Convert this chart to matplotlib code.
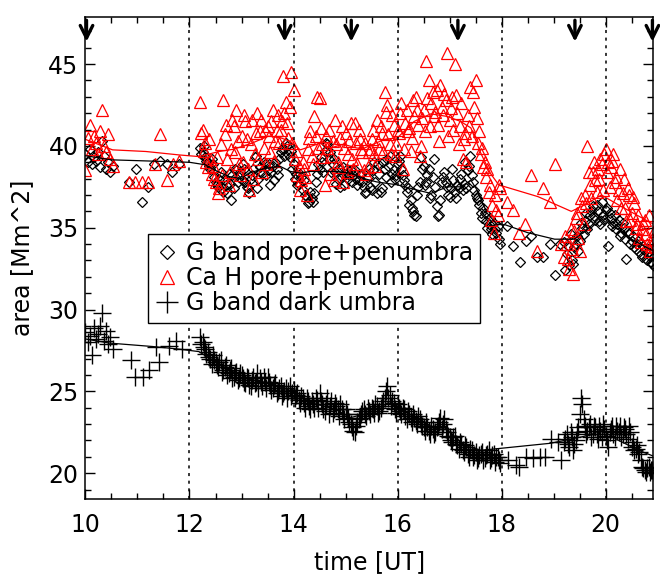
import numpy as np
import matplotlib
matplotlib.use("Agg")
import matplotlib.pyplot as plt
from matplotlib.ticker import MultipleLocator

plt.rcParams["font.family"] = ["DejaVu Sans"]

# ---- observation times (UT hours) ----
t_a = [10.00, 10.04, 10.08, 10.12, 10.16, 10.20, 10.24, 10.28, 10.32, 10.36, 10.40, 10.44, 10.48, 10.52]
t_b = [12.20, 12.25, 12.30, 12.35, 12.40, 12.45, 12.50, 12.55, 12.60, 12.65, 12.70, 12.75, 12.80, 12.85, 12.90, 12.95,
       13.00, 13.05, 13.10, 13.15, 13.20, 13.25, 13.30, 13.35, 13.40, 13.45, 13.50, 13.55, 13.60, 13.65, 13.70, 13.75,
       13.80, 13.85, 13.90, 13.95, 14.00, 14.05, 14.10, 14.15, 14.20, 14.25, 14.30, 14.35, 14.40, 14.45, 14.50, 14.55,
       14.60, 14.65, 14.70, 14.75, 14.80, 14.85, 14.90, 14.95, 15.00, 15.05, 15.10, 15.15, 15.20, 15.25, 15.30, 15.35,
       15.40, 15.45, 15.50, 15.55, 15.60, 15.65, 15.70, 15.75, 15.80, 15.85, 15.90, 15.95, 16.00, 16.05, 16.10, 16.15,
       16.20, 16.25, 16.30, 16.35, 16.40, 16.45, 16.50, 16.55, 16.60, 16.65, 16.70, 16.75, 16.80, 16.85, 16.90, 16.95,
       17.00, 17.05, 17.10, 17.15, 17.20, 17.25, 17.30, 17.35, 17.40, 17.45, 17.50, 17.55, 17.60, 17.65, 17.70, 17.75,
       17.80, 17.85, 17.90, 17.95]
t_b2 = [12.225, 12.275, 12.325, 12.375, 12.425, 12.475, 12.525, 12.575, 12.625, 12.675, 12.725, 12.775, 12.825, 12.875,
        12.925, 12.975, 13.025, 13.075, 13.125, 13.175, 13.225, 13.275, 13.325, 13.375, 13.425, 13.475, 13.525, 13.575,
        13.625, 13.675, 13.725, 13.775, 13.825, 13.875, 13.925, 13.975, 14.025, 14.075, 14.125, 14.175, 14.225, 14.275,
        14.325, 14.375, 14.425, 14.475, 14.525, 14.575, 14.625, 14.675, 14.725, 14.775, 14.825, 14.875, 14.925, 14.975,
        15.025, 15.075, 15.125, 15.175, 15.225, 15.275, 15.325, 15.375, 15.425, 15.475, 15.525, 15.575, 15.625, 15.675,
        15.725, 15.775, 15.825, 15.875, 15.925, 15.975, 16.025, 16.075, 16.125, 16.175, 16.225, 16.275, 16.325, 16.375,
        16.425, 16.475, 16.525, 16.575, 16.625, 16.675, 16.725, 16.775, 16.825, 16.875, 16.925, 16.975, 17.025, 17.075,
        17.125, 17.175, 17.225, 17.275, 17.325, 17.375, 17.425, 17.475, 17.525, 17.575, 17.625, 17.675, 17.725, 17.775,
        17.825, 17.875, 17.925, 17.975]
t_c = [19.20, 19.25, 19.30, 19.35, 19.40, 19.45, 19.50, 19.55, 19.60, 19.65, 19.70, 19.75, 19.80, 19.85, 19.90, 19.95,
       20.00, 20.05, 20.10, 20.15, 20.20, 20.25, 20.30, 20.35, 20.40, 20.45, 20.50, 20.55, 20.60, 20.65, 20.70, 20.75,
       20.80, 20.85, 20.90, 20.95]
t_c2 = [19.225, 19.275, 19.325, 19.375, 19.425, 19.475, 19.525, 19.575, 19.625, 19.675, 19.725, 19.775, 19.825,
        19.875, 19.925, 19.975, 20.025, 20.075, 20.125, 20.175, 20.225, 20.275, 20.325, 20.375, 20.425, 20.475,
        20.525, 20.575, 20.625, 20.675, 20.725, 20.775, 20.825, 20.875, 20.925]

# ---- G band pore+penumbra ----
gpen_a = [39.5, 39.0, 39.8, 38.9, 39.3, 39.1, 39.6, 38.7, 40.3, 39.4, 38.6, 39.0, 38.4, 38.8]
gpen_b = [39.9, 39.6, 39.3, 39.0, 38.6, 38.9, 37.8, 37.5, 38.4, 37.2, 37.6, 38.3, 36.7, 37.4, 38.5, 38.1,
          37.9, 38.6, 37.5, 37.1, 38.2, 39.3, 37.4, 38.7, 38.3, 38.9, 38.5, 37.6, 38.8, 39.0, 38.2, 39.6,
          39.9, 40.2, 39.5, 39.7, 38.9, 38.3, 37.7, 38.1, 37.9, 36.9, 36.6, 36.8, 37.1, 38.3, 38.6, 39.0,
          39.7, 40.1, 39.6, 38.9, 38.4, 38.0, 37.5, 38.7, 38.3, 38.0, 38.5, 38.2, 38.0, 37.9, 38.3, 37.5,
          37.2, 38.6, 37.3, 39.0, 37.1, 38.3, 37.4, 38.6, 39.2, 39.4, 38.3, 38.0, 38.9, 39.4, 38.2, 37.6,
          37.4, 36.7, 36.0, 35.7, 37.5, 39.3, 38.8, 37.8, 38.6, 37.0, 39.2, 36.3, 35.8, 37.8, 38.4, 37.5,
          36.9, 38.6, 37.2, 37.6, 38.0, 37.3, 39.0, 38.5, 39.4, 37.8, 37.0, 36.7, 35.9, 36.2, 35.4, 35.2,
          34.9, 35.3, 34.7, 34.3]
gpen_b2 = [39.5, 40.0, 39.1, 38.8, 39.2, 38.1, 37.6, 38.0, 37.4, 37.9, 37.1, 37.7, 38.2, 38.6, 37.8, 38.4,
           38.9, 37.8, 37.4, 38.0, 38.6, 39.4, 38.0, 38.4, 39.0, 38.2, 38.9, 38.4, 37.9, 38.6, 39.2, 39.8,
           39.4, 40.0, 39.3, 38.6, 38.0, 37.6, 38.3, 37.3, 37.0, 36.5, 37.2, 36.6, 37.8, 38.9, 39.3, 38.4,
           40.2, 39.2, 38.4, 39.2, 37.7, 38.6, 38.1, 37.6, 38.6, 38.2, 37.8, 38.5, 37.6, 38.2, 37.8, 37.1,
           38.1, 37.5, 38.5, 37.8, 38.9, 37.2, 39.0, 38.1, 38.8, 37.8, 38.5, 38.2, 39.1, 38.6, 37.9, 37.2,
           36.4, 36.2, 35.8, 37.0, 37.8, 38.6, 37.6, 38.2, 36.8, 38.1, 37.5, 35.7, 36.7, 38.1, 37.8, 37.0,
           37.4, 37.9, 36.8, 37.4, 38.3, 37.7, 37.4, 38.8, 38.2, 37.3, 36.8, 36.4, 35.6, 35.9, 35.0, 35.6,
           34.6, 34.9, 35.1, 34.0]
gpen_c = [34.1, 33.4, 32.7, 33.0, 33.8, 34.5, 34.2, 35.0, 35.4, 34.9, 35.8, 36.3, 35.5, 36.0, 35.2, 35.8,
          36.1, 33.9, 35.6, 35.3, 34.9, 35.5, 34.7, 35.0, 33.1, 34.6, 34.2, 33.8, 34.0, 33.5, 33.2, 33.6,
          33.0, 33.3, 32.8, 32.6]
gpen_c2 = [32.4, 33.9, 34.6, 32.8, 34.0, 33.6, 35.3, 34.6, 35.9, 35.2, 36.0, 35.7, 36.4, 35.4, 36.6, 35.5,
           36.2, 35.9, 35.1, 35.8, 35.2, 34.5, 35.3, 34.3, 34.8, 34.0, 34.5, 33.7, 34.2, 33.4, 33.9, 33.1,
           33.5, 32.9, 33.3]
t_gpen_gap = [10.84, 10.97, 11.08, 11.20, 11.32, 11.43, 11.56, 11.67, 11.80,
              18.11, 18.22, 18.35, 18.46, 18.57, 18.69, 18.80, 18.93, 19.03, 19.12]
gpen_gap = [37.8, 38.6, 36.6, 37.5, 38.9, 39.1, 38.9, 38.4, 38.9,
            35.1, 33.9, 32.9, 34.2, 34.5, 33.2, 33.2, 34.0, 32.1, 34.0]

# ---- Ca H pore+penumbra ----
cah_a = [38.5, 40.5, 41.3, 39.8, 40.6, 40.2, 39.5, 40.9, 42.2, 40.0, 39.6, 40.7, 39.2, 38.8]
cah_b = [42.7, 41.0, 40.2, 38.7, 39.2, 38.8, 37.8, 37.1, 40.1, 42.8, 41.3, 37.6, 39.8, 41.2, 42.2, 38.9,
         40.6, 41.9, 40.4, 37.3, 41.6, 39.5, 42.0, 40.9, 38.4, 41.0, 41.2, 39.6, 42.2, 40.3, 41.9, 41.0,
         44.3, 42.7, 40.5, 44.5, 43.4, 39.7, 38.8, 37.9, 38.6, 37.0, 40.5, 39.4, 41.8, 43.0, 42.9, 40.1,
         37.6, 39.9, 38.3, 40.3, 41.6, 39.0, 40.5, 37.8, 40.8, 39.5, 41.4, 38.6, 40.2, 41.0, 39.8, 38.5,
         38.3, 39.6, 40.4, 39.5, 41.6, 39.8, 40.8, 43.3, 42.5, 40.1, 41.9, 39.4, 41.0, 42.0, 38.6, 41.4,
         40.9, 39.7, 42.8, 43.0, 41.3, 40.0, 42.2, 45.2, 44.0, 42.6, 41.8, 43.4, 40.3, 42.4, 43.2, 45.7,
         41.6, 43.0, 45.0, 42.0, 41.2, 39.2, 40.8, 41.9, 43.6, 43.3, 44.0, 40.2, 39.5, 38.7, 38.1, 37.2,
         35.5, 34.7, 36.1, 37.6]
cah_b2 = [40.8, 39.7, 39.0, 40.4, 38.3, 38.0, 39.3, 37.4, 38.2, 40.7, 39.2, 38.4, 41.6, 39.6, 40.3, 38.2,
          39.0, 41.5, 38.6, 40.1, 38.0, 40.8, 39.2, 41.6, 39.9, 38.9, 40.6, 41.5, 39.1, 41.0, 40.2, 41.5,
          42.0, 41.4, 42.4, 40.2, 39.2, 38.2, 37.3, 39.0, 38.1, 39.8, 40.9, 38.9, 40.6, 39.9, 41.1, 39.3,
          40.6, 41.0, 39.4, 37.9, 40.1, 38.7, 41.2, 39.9, 38.4, 40.3, 39.2, 41.4, 38.9, 40.4, 39.6, 40.2,
          38.7, 39.8, 41.0, 38.8, 40.3, 41.2, 39.6, 42.1, 40.7, 39.5, 41.3, 40.1, 40.8, 42.6, 39.8, 42.2,
          41.1, 40.5, 41.8, 42.2, 39.4, 41.7, 40.9, 42.9, 41.2, 43.3, 42.1, 41.3, 43.7, 41.9, 42.8, 40.6,
          42.3, 41.0, 43.1, 40.1, 42.6, 40.4, 39.0, 41.2, 40.6, 42.4, 41.7, 40.9, 39.9, 39.0, 38.6, 37.6,
          36.4, 37.0, 35.8, 37.4]
cah_c = [33.2, 34.0, 32.5, 33.7, 34.8, 35.9, 33.6, 36.3, 37.0, 40.0, 37.6, 38.4, 37.9, 38.6, 39.2, 37.3,
         39.8, 39.0, 38.7, 39.5, 38.1, 37.3, 36.2, 38.0, 35.4, 37.0, 35.9, 36.5, 35.2, 34.4, 34.9, 35.5,
         34.0, 33.6, 34.3, 33.8]
cah_c2 = [34.5, 33.1, 34.9, 32.2, 35.6, 34.4, 36.8, 35.2, 36.5, 38.4, 36.8, 39.0, 37.2, 38.0, 38.9, 39.5,
          38.4, 37.5, 39.1, 37.8, 36.7, 38.6, 37.1, 36.2, 37.4, 35.5, 36.9, 35.0, 35.8, 34.1, 35.3, 34.6,
          35.8, 33.9, 34.8]
t_cah_gap = [10.84, 10.96, 11.08, 11.21, 11.33, 11.44, 11.56, 11.68, 11.79,
             18.11, 18.22, 18.33, 18.45, 18.57, 18.69, 18.80, 18.93, 19.03, 19.15]
cah_gap = [37.8, 37.8, 37.8, 37.8, 38.9, 40.7, 37.9, 38.9, 39.1,
           36.6, 36.1, 34.7, 35.2, 38.2, 33.6, 37.4, 36.6, 38.9, 34.0]

# ---- G band dark umbra ----
umb_a = [28.6, 28.0, 28.4, 27.2, 28.9, 28.2, 28.5, 29.0, 29.8, 28.1, 28.7, 27.9, 28.3, 27.6]
umb_b = [28.3, 28.0, 27.6, 27.4, 27.0, 27.2, 26.8, 26.5, 26.9, 26.3, 26.6, 26.1, 26.4, 25.9, 26.2, 25.8,
         26.0, 25.6, 25.9, 25.4, 25.7, 25.5, 26.1, 25.8, 25.3, 25.6, 25.9, 25.4, 25.2, 25.5, 25.0, 25.3,
         24.9, 25.2, 25.0, 24.7, 25.1, 24.8, 24.5, 24.7, 24.3, 24.6, 24.1, 24.4, 24.0, 24.5, 24.9, 24.2,
         23.8, 24.6, 24.1, 23.7, 24.3, 23.9, 24.2, 23.6, 23.9, 23.4, 23.0, 22.6, 22.9, 23.3, 23.6, 23.9,
         23.5, 23.8, 24.0, 23.7, 24.1, 23.8, 24.2, 24.6, 25.3, 24.8, 24.4, 23.9, 24.2, 23.8, 24.0, 23.5,
         23.8, 23.4, 23.6, 23.2, 23.5, 23.0, 22.8, 23.1, 22.6, 22.9, 22.4, 22.8, 23.1, 22.7, 23.3, 22.5,
         22.2, 21.9, 22.3, 21.7, 21.9, 21.4, 21.7, 21.2, 21.5, 21.0, 21.3, 20.9, 21.2, 20.8, 21.1, 21.4,
         20.9, 21.2, 21.0, 20.8]
umb_b2 = [27.9, 27.7, 27.3, 27.1, 26.7, 26.9, 26.6, 26.8, 26.2, 26.5, 26.0, 26.3, 25.8, 26.1, 25.7, 26.1,
          25.8, 25.5, 25.8, 25.3, 25.9, 25.6, 25.2, 25.6, 25.9, 25.2, 25.6, 25.1, 25.4, 24.9, 25.2, 24.7,
          25.0, 24.6, 25.3, 24.9, 24.6, 24.9, 24.3, 24.6, 24.0, 24.4, 23.9, 24.2, 24.6, 24.0, 24.4, 23.9,
          24.2, 23.6, 24.4, 23.9, 24.1, 23.5, 23.9, 23.3, 23.6, 23.1, 22.8, 22.5, 23.1, 23.4, 23.8, 23.6,
          24.0, 23.6, 23.9, 24.2, 23.7, 24.0, 24.4, 25.0, 24.6, 24.1, 24.3, 23.7, 24.0, 23.6, 23.9, 23.3,
          23.6, 23.1, 23.4, 23.0, 23.3, 22.9, 22.6, 22.8, 22.4, 22.7, 22.5, 22.9, 23.4, 23.0, 22.7, 22.3,
          22.0, 22.2, 21.8, 21.5, 21.8, 21.3, 21.6, 21.0, 21.4, 21.1, 20.8, 21.1, 21.3, 20.9, 21.2, 20.8,
          21.1, 20.7, 21.0, 20.6]
umb_c = [21.9, 22.4, 21.6, 22.2, 21.8, 22.5, 23.6, 24.2, 22.9, 22.6, 23.0, 22.4, 22.8, 22.1, 22.6, 23.0,
         22.3, 21.6, 22.7, 22.4, 22.9, 22.5, 22.2, 22.8, 22.4, 22.9, 21.6, 21.4, 21.7, 21.3, 20.4, 20.2,
         20.3, 20.1, 20.2, 20.0]
umb_c2 = [22.1, 21.8, 22.5, 21.4, 22.0, 22.8, 24.6, 23.3, 22.4, 22.8, 22.2, 22.9, 22.4, 22.9, 22.2, 22.7,
          22.0, 22.5, 22.9, 22.2, 22.6, 22.9, 22.4, 22.7, 22.1, 22.5, 21.9, 21.5, 21.2, 20.8, 20.3, 20.1,
          20.4, 20.2, 20.1]
t_umb_gap = [10.87, 10.96, 11.10, 11.23, 11.35, 11.42, 11.60, 11.74, 11.86,
             18.12, 18.28, 18.34, 18.47, 18.60, 18.73, 18.83, 18.95, 19.08, 19.14]
umb_gap = [26.9, 25.9, 25.9, 26.3, 27.7, 26.8, 27.8, 28.1, 27.6,
           20.8, 20.5, 20.4, 21.0, 20.9, 21.0, 21.0, 22.1, 21.9, 20.8]

# ---- smoothed trend curves ----
trend_gpen_t = [10.0, 10.5, 11.0, 11.5, 12.0, 12.3, 12.5, 12.76, 13.0, 13.14, 13.46, 13.75, 13.94, 14.13,
                14.32, 14.57, 14.83, 15.09, 15.36, 15.6, 16.0, 16.38, 16.64, 16.96, 17.21, 17.41, 17.53,
                17.72, 17.91, 18.07, 18.5, 19.02, 19.4, 19.65, 19.92, 20.2, 20.5, 20.87, 20.95]
trend_gpen = [39.4, 39.15, 39.1, 39.05, 39.0, 38.85, 38.5, 38.13, 38.0, 38.34, 38.64, 38.74, 38.44, 38.34,
              38.44, 38.44, 38.44, 38.34, 38.0, 37.8, 37.62, 37.3, 37.1, 37.5, 37.5, 37.9, 37.3,
              35.9, 35.2, 35.18, 34.7, 34.3, 34.3, 34.9, 35.7, 35.0, 34.3, 33.65, 33.6]
trend_cah_t = [10.0, 10.52, 11.16, 11.8, 12.18, 12.57, 12.85, 13.2, 13.52, 13.75, 13.94, 14.13, 14.32, 14.51,
               14.7, 14.96, 15.22, 15.36, 15.75, 16.0, 16.32, 16.64, 16.96, 17.21, 17.41, 17.6, 17.79,
               17.95, 18.07, 18.7, 19.34, 19.6, 19.92, 20.3, 20.87, 20.95]
trend_cah = [40.4, 39.76, 39.66, 39.45, 39.35, 39.66, 39.8, 40.17, 40.6, 40.5, 40.27, 39.76, 39.96, 40.17,
             39.87, 40.1, 39.87, 39.87, 40.4, 40.5, 41.5, 41.96, 41.8, 41.5, 41.1, 39.56, 38.3,
             37.6, 37.5, 36.9, 36.0, 36.4, 37.0, 36.3, 35.3, 35.2]
trend_umb_t = [10.0, 10.46, 11.29, 11.8, 12.18, 12.44, 12.76, 13.2, 13.52, 13.9, 14.35, 14.8, 15.1, 15.44,
               15.82, 16.08, 16.4, 16.72, 16.9, 17.29, 17.6, 17.93, 18.95, 19.72, 19.91, 20.23, 20.61, 20.95]
trend_umb = [28.2, 27.95, 27.74, 27.58, 27.43, 26.93, 26.31, 25.7, 25.5, 25.1, 24.3, 23.9, 23.4, 23.67,
             24.3, 23.87, 23.3, 22.7, 22.8, 21.7, 21.4, 21.5, 21.83, 22.34, 22.65, 22.04, 21.43, 21.0]

event_times = [10.02, 13.83, 15.11, 17.16, 19.41, 20.90]
guide_times = [12, 14, 16, 18, 20]

t_all = np.concatenate([t_a, t_b, t_b2, t_c, t_c2])

fig = plt.figure(figsize=(6.6, 5.79), dpi=100)
ax = fig.add_axes([0.1295, 0.1376, 0.8606, 0.8336])

ax.plot(np.concatenate([t_all, t_gpen_gap]),
        np.concatenate([gpen_a, gpen_b, gpen_b2, gpen_c, gpen_c2, gpen_gap]),
        ls="none", marker="D", ms=5.6, mfc="none", mec="black", mew=0.9,
        label="G band pore+penumbra")
ax.plot(np.concatenate([t_all, t_cah_gap]),
        np.concatenate([cah_a, cah_b, cah_b2, cah_c, cah_c2, cah_gap]),
        ls="none", marker="^", ms=8.5, mfc="none", mec="red", mew=0.9,
        label="Ca H pore+penumbra")
ax.plot(np.concatenate([t_all, t_umb_gap]),
        np.concatenate([umb_a, umb_b, umb_b2, umb_c, umb_c2, umb_gap]),
        ls="none", marker="+", ms=13, mec="black", mew=1.0,
        label="G band dark umbra")

ax.plot(trend_gpen_t, trend_gpen, color="black", lw=0.9)
ax.plot(trend_cah_t, trend_cah, color="red", lw=0.9)
ax.plot(trend_umb_t, trend_umb, color="black", lw=0.9)

for g in guide_times:
    ax.axvline(g, color="black", ls=(0, (2, 3)), lw=1.1)

for t in event_times:
    ax.annotate("", xy=(t, 46.2), xytext=(t, 47.85),
                arrowprops=dict(arrowstyle="->,head_length=0.9,head_width=0.45", color="black", lw=2.4),
                annotation_clip=False)

ax.set_xlim(10, 20.92)
ax.set_ylim(18.4, 47.9)
ax.xaxis.set_major_locator(MultipleLocator(2))
ax.xaxis.set_minor_locator(MultipleLocator(0.5))
ax.yaxis.set_major_locator(MultipleLocator(5))
ax.yaxis.set_minor_locator(MultipleLocator(1))
ax.tick_params(which="both", direction="in", top=True, right=True, labelsize=17, width=1.0)
ax.tick_params(axis="x", which="major", length=7, pad=10)
ax.tick_params(axis="y", which="major", length=7, pad=5)
ax.tick_params(which="minor", length=4)
for s in ax.spines.values():
    s.set_linewidth(1.1)

ax.set_xlabel("time [UT]", fontsize=17, labelpad=9)
ax.set_ylabel("area [Mm^2]", fontsize=17, labelpad=10)

leg = ax.legend(loc="upper left", bbox_to_anchor=(0.110, 0.5497), borderaxespad=0,
                fontsize=17, frameon=True, fancybox=False, edgecolor="black", framealpha=1,
                markerscale=1.25, handlelength=1.0, handletextpad=0.3, borderpad=0.3,
                labelspacing=0.05)
leg.get_frame().set_linewidth(1.0)

fig.savefig("out.png", dpi=100)
